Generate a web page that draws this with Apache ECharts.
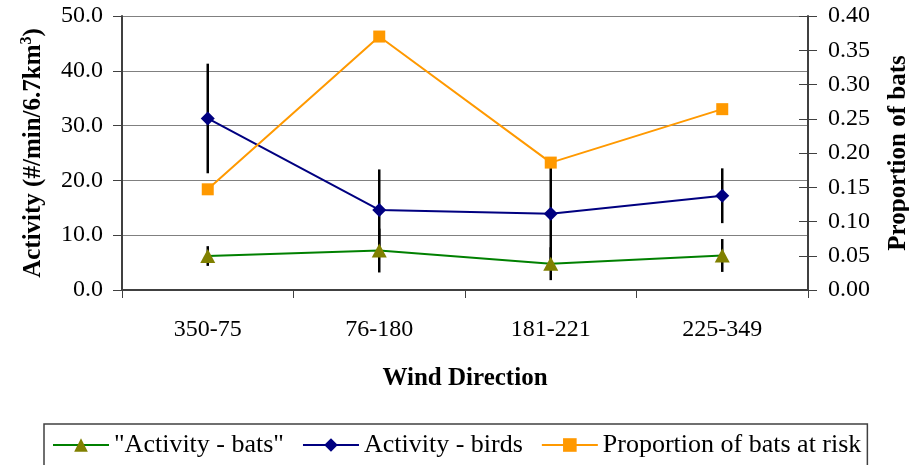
<!DOCTYPE html>
<html>
<head>
<meta charset="utf-8">
<script src="https://cdn.jsdelivr.net/npm/echarts@6/dist/echarts.min.js"></script>
<style>
  html, body { margin: 0; padding: 0; background: #ffffff; }
  #chart { width: 909px; height: 465px; }
</style>
</head>
<body>
<div id="chart"></div>
<script>
// Wind direction sectors
const categories = ['350-75', '76-180', '181-221', '225-349'];

// Activity (#/min/6.7km³) with error half-widths
const batsActivity = [6.2, 7.2, 4.8, 6.3];
const batsError = [1.8, 4.0, 3.0, 3.0];
const birdsActivity = [31.3, 14.6, 13.9, 17.2];
const birdsError = [10.0, 7.4, 9.2, 5.0];

// Proportion of bats at risk (right axis)
const proportionAtRisk = [0.147, 0.370, 0.186, 0.264];

// Axis tick values
const leftTicks = { min: 0, max: 50, interval: 10 };
const rightTicks = { min: 0, max: 0.4, interval: 0.05 };

const FONT = 'Liberation Serif';

function errorData(values, errors) {
  return values.map((v, i) => [i, v, errors[i]]);
}

function renderErrorBar(params, api) {
  const x = api.value(0);
  const v = api.value(1);
  const e = api.value(2);
  const top = api.coord([x, v + e]);
  const bottom = api.coord([x, v - e]);
  return {
    type: 'line',
    shape: { x1: top[0], y1: top[1], x2: bottom[0], y2: bottom[1] },
    style: { stroke: '#000000', lineWidth: 2.5 }
  };
}

const chart = echarts.init(document.getElementById('chart'), null, { renderer: 'canvas' });

chart.setOption({
  backgroundColor: '#ffffff',
  animation: false,
  textStyle: { fontFamily: FONT, color: '#000000' },
  grid: { left: 122, right: 101, top: 16, bottom: 175, containLabel: false, outerBoundsMode: 'none' },
  legend: {
    left: 44,
    top: 424,
    padding: [8, 6, 30, 8],
    itemWidth: 56,
    itemHeight: 17,
    itemGap: 18,
    borderColor: '#404040',
    borderWidth: 1.5,
    textStyle: { fontFamily: FONT, fontSize: 26, color: '#000000' },
    data: ['"Activity - bats"', 'Activity - birds', 'Proportion of bats at risk']
  },
  xAxis: {
    type: 'category',
    data: categories,
    boundaryGap: true,
    name: 'Wind Direction',
    nameLocation: 'middle',
    nameGap: 76,
    nameTextStyle: { fontFamily: FONT, fontSize: 25, fontWeight: 'bold', color: '#000000' },
    axisLine: { lineStyle: { color: '#404040', width: 2 } },
    axisTick: { show: true, length: 8, lineStyle: { color: '#404040', width: 1 } },
    axisLabel: { fontFamily: FONT, fontSize: 24, color: '#000000', margin: 28 }
  },
  yAxis: [
    {
      type: 'value',
      position: 'left',
      min: leftTicks.min, max: leftTicks.max, interval: leftTicks.interval,
      name: '{t|Activity (#/min/6.7km}{s|3}{t|)}',
      nameLocation: 'middle',
      nameRotate: 90,
      nameGap: 73,
      nameTextStyle: {
        rich: {
          t: { fontFamily: FONT, fontSize: 25, fontWeight: 'bold', color: '#000000', lineHeight: 30 },
          s: { fontFamily: FONT, fontSize: 16, fontWeight: 'bold', color: '#000000', verticalAlign: 'top', lineHeight: 16 }
        }
      },
      axisLine: { show: true, lineStyle: { color: '#404040', width: 2 } },
      axisTick: { show: true, length: 9, lineStyle: { color: '#404040', width: 1 } },
      axisLabel: {
        fontFamily: FONT, fontSize: 24, color: '#000000', margin: 19,
        formatter: v => v.toFixed(1)
      },
      splitLine: { show: true, lineStyle: { color: '#808080', width: 1.2 } }
    },
    {
      type: 'value',
      position: 'right',
      min: rightTicks.min, max: rightTicks.max, interval: rightTicks.interval,
      name: 'Proportion of bats',
      nameLocation: 'middle',
      nameRotate: 90,
      nameGap: 78,
      nameTextStyle: { fontFamily: FONT, fontSize: 25, fontWeight: 'bold', color: '#000000' },
      axisLine: { show: true, lineStyle: { color: '#404040', width: 2 } },
      axisTick: { show: true, length: 9, lineStyle: { color: '#404040', width: 1 } },
      axisLabel: {
        fontFamily: FONT, fontSize: 24, color: '#000000', margin: 20,
        formatter: v => v.toFixed(2)
      },
      splitLine: { show: false }
    },
    {
      // inner half of the crossing ticks on the right axis
      type: 'value',
      position: 'right',
      min: rightTicks.min, max: rightTicks.max, interval: rightTicks.interval,
      axisLine: { show: false },
      axisTick: { show: true, inside: true, length: 9, lineStyle: { color: '#404040', width: 1 } },
      axisLabel: { show: false },
      splitLine: { show: false }
    }
  ],
  series: [
    {
      name: 'bats-error',
      type: 'custom',
      yAxisIndex: 0,
      z: 1,
      renderItem: renderErrorBar,
      data: errorData(batsActivity, batsError),
      encode: { x: 0, y: 1 },
      silent: true
    },
    {
      name: 'birds-error',
      type: 'custom',
      yAxisIndex: 0,
      z: 1,
      renderItem: renderErrorBar,
      data: errorData(birdsActivity, birdsError),
      encode: { x: 0, y: 1 },
      silent: true
    },
    {
      name: '"Activity - bats"',
      type: 'line',
      yAxisIndex: 0,
      z: 3,
      data: batsActivity,
      symbol: 'triangle',
      symbolSize: [15, 14],
      showAllSymbol: true,
      lineStyle: { color: '#008000', width: 2 },
      itemStyle: { color: '#808000', borderWidth: 0 }
    },
    {
      name: 'Activity - birds',
      type: 'line',
      yAxisIndex: 0,
      z: 3,
      data: birdsActivity,
      symbol: 'diamond',
      symbolSize: 14,
      showAllSymbol: true,
      lineStyle: { color: '#000080', width: 2 },
      itemStyle: { color: '#000080', borderWidth: 0 }
    },
    {
      name: 'Proportion of bats at risk',
      type: 'line',
      yAxisIndex: 1,
      z: 3,
      data: proportionAtRisk,
      symbol: 'rect',
      symbolSize: 12,
      showAllSymbol: true,
      lineStyle: { color: '#FF9900', width: 2 },
      itemStyle: { color: '#FF9900', borderWidth: 0 }
    }
  ]
});
</script>
</body>
</html>
